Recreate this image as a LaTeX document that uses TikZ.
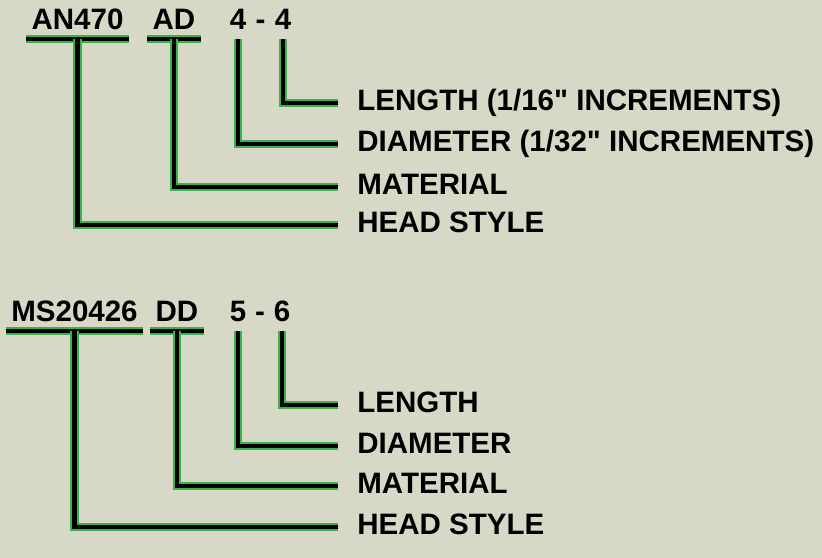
\documentclass[tikz,border=0pt]{standalone}
\usepackage{fontspec}
\newfontfamily\rivetfont{Liberation Sans}

\definecolor{panel}{RGB}{216,216,198}
\definecolor{leadgreen}{RGB}{56,178,76}

\tikzset{
  lead/.style={line width=2.5pt, black, preaction={draw=leadgreen, line width=5pt}},
  code/.style={anchor=south, font=\rivetfont\bfseries\fontsize{16.8}{20}\selectfont,
    inner xsep=0.1cm, inner ysep=0.18cm, text depth=0pt},
  part/.style={anchor=west, font=\rivetfont\bfseries\fontsize{16.8}{20}\selectfont,
    inner xsep=0.38cm, inner ysep=0pt, text height=0.85em, text depth=0pt}
}

\begin{document}
\begin{tikzpicture}[x=0.02cm, y=-0.02cm]
    % Background
    \useasboundingbox (0,0) rectangle (822,558);
    \fill[panel] (0,0) rectangle (822,558);

    % AN rivet code
    \node[code] (an) at (77.5,39) {AN470};
    \node[code] (ad) at (174,39) {AD};
    \node[code] (adia) at (238,39) {4};
    \node[code] (adash) at (260.5,39) {-};
    \node[code] (alen) at (283,39) {4};

    \node[part] (alength) at (338,103) {LENGTH (1/16" INCREMENTS)};
    \node[part] (adiameter) at (338,144) {DIAMETER (1/32" INCREMENTS)};
    \node[part] (amaterial) at (338,187) {MATERIAL};
    \node[part] (ahead) at (338,225) {HEAD STYLE};

    \draw[lead] (an.south west) -- (an.south east);
    \draw[lead] (ad.south west) -- (ad.south east);
    \draw[lead] (alen.south) |- (alength.west);
    \draw[lead] (adia.south) |- (adiameter.west);
    \draw[lead] (ad.south) |- (amaterial.west);
    \draw[lead] (an.south) |- (ahead.west);

    % MS rivet code
    \node[code] (ms) at (74.5,331) {MS20426};
    \node[code] (dd) at (177,331) {DD};
    \node[code] (mdia) at (238,331) {5};
    \node[code] (mdash) at (260,331) {-};
    \node[code] (mlen) at (282,331) {6};

    \node[part] (mlength) at (338,405) {LENGTH};
    \node[part] (mdiameter) at (338,446) {DIAMETER};
    \node[part] (mmaterial) at (338,486) {MATERIAL};
    \node[part] (mhead) at (338,527) {HEAD STYLE};

    \draw[lead] (ms.south west) -- (ms.south east);
    \draw[lead] (dd.south west) -- (dd.south east);
    \draw[lead] (mlen.south) |- (mlength.west);
    \draw[lead] (mdia.south) |- (mdiameter.west);
    \draw[lead] (dd.south) |- (mmaterial.west);
    \draw[lead] (ms.south) |- (mhead.west);

\end{tikzpicture}
\end{document}
